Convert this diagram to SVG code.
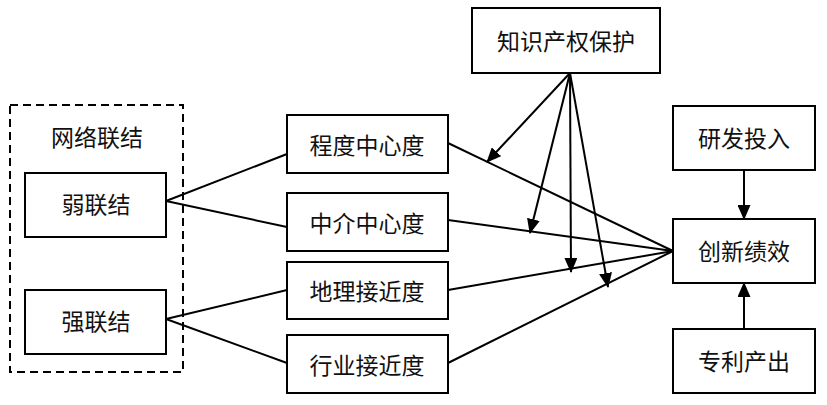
<svg xmlns="http://www.w3.org/2000/svg" width="827" height="405" viewBox="0 0 827 405">
<style>
.box{fill:#fff;stroke:#000;stroke-width:2}
.t{font-family:"Noto Sans CJK SC","Noto Sans",sans-serif;font-size:23px;fill:#111;text-anchor:middle;dominant-baseline:central}
.ln{stroke:#000;stroke-width:2;fill:none}
.ar{stroke:#000;stroke-width:2;fill:none;marker-end:url(#ah)}
</style>
<defs>
<marker id="ah" markerUnits="userSpaceOnUse" markerWidth="15" markerHeight="13" refX="14" refY="6.5" orient="auto" viewBox="0 0 15 13">
<path d="M0,0 L15,6.5 L0,13 Z" fill="#000"/>
</marker>
</defs>
<g id="network">
<rect x="10" y="105" width="173" height="267" fill="none" stroke="#000" stroke-width="2" stroke-dasharray="8,5"/>
<text class="t" x="97" y="136">网络联结</text>
</g>
<g id="weak"><rect class="box" x="25" y="173" width="141" height="64"/><text class="t" x="96" y="203">弱联结</text></g>
<g id="strong"><rect class="box" x="25" y="290" width="141" height="64"/><text class="t" x="96" y="320">强联结</text></g>
<g id="degree"><rect class="box" x="287" y="115" width="161" height="58"/><text class="t" x="367" y="144">程度中心度</text></g>
<g id="between"><rect class="box" x="287" y="193" width="161" height="58"/><text class="t" x="367" y="222">中介中心度</text></g>
<g id="geo"><rect class="box" x="287" y="262" width="161" height="57"/><text class="t" x="367" y="290">地理接近度</text></g>
<g id="industry"><rect class="box" x="287" y="335" width="161" height="58"/><text class="t" x="367" y="364">行业接近度</text></g>
<g id="ipr"><rect class="box" x="472" y="8" width="188" height="65"/><text class="t" x="566" y="40">知识产权保护</text></g>
<g id="rd"><rect class="box" x="673" y="106" width="142" height="64"/><text class="t" x="744" y="137">研发投入</text></g>
<g id="perf"><rect class="box" x="673" y="219" width="142" height="64"/><text class="t" x="744" y="250">创新绩效</text></g>
<g id="patent"><rect class="box" x="673" y="329" width="142" height="64"/><text class="t" x="744" y="360">专利产出</text></g>
<g id="connectors">
<line class="ln" x1="166" y1="201" x2="287" y2="154"/>
<line class="ln" x1="166" y1="201" x2="287" y2="227"/>
<line class="ln" x1="166" y1="319" x2="287" y2="290"/>
<line class="ln" x1="166" y1="319" x2="287" y2="363"/>
<line class="ln" x1="448" y1="143" x2="673" y2="251"/>
<line class="ln" x1="448" y1="220" x2="673" y2="251"/>
<line class="ln" x1="448" y1="290" x2="673" y2="251"/>
<line class="ln" x1="448" y1="363" x2="673" y2="251"/>
<line class="ar" x1="570" y1="73" x2="487" y2="162"/>
<line class="ar" x1="570" y1="73" x2="530" y2="233"/>
<line class="ar" x1="570" y1="73" x2="571" y2="272"/>
<line class="ar" x1="570" y1="73" x2="608" y2="287"/>
<line class="ar" x1="744" y1="170" x2="744" y2="219"/>
<line class="ar" x1="744" y1="329" x2="744" y2="283"/>
</g>
</svg>
